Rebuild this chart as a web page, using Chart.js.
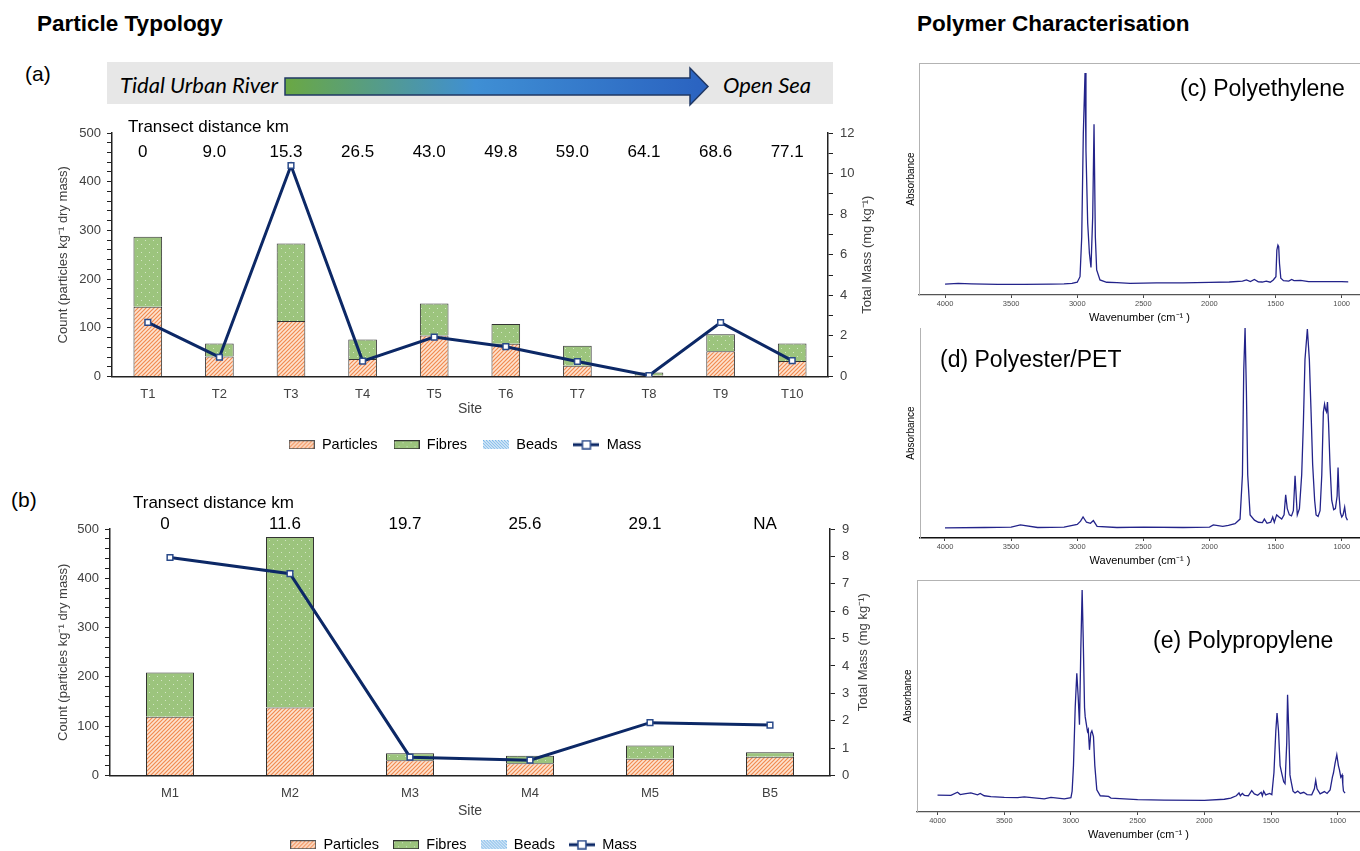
<!DOCTYPE html>
<html>
<head>
<meta charset="utf-8">
<script src="https://cdn.jsdelivr.net/npm/chart.js@4.4.0/dist/chart.umd.min.js"></script>
<style>
  body { margin: 0; width: 1360px; height: 851px; overflow: hidden; background: #fff; position: relative;
         font-family: "Liberation Sans", Arial, sans-serif; color: #000; }
  .abs { position: absolute; white-space: nowrap; }
  .head { font-weight: bold; font-size: 22.5px; }
  .panel { font-size: 21px; }
  .spec { font-size: 23px; }
  canvas { display: block; }
</style>
</head>
<body>
<div class="abs head" style="left:37px; top:11px;">Particle Typology</div>
<div class="abs head" style="left:917px; top:11px;">Polymer Characterisation</div>
<div class="abs panel" style="left:25px; top:62px;">(a)</div>
<div class="abs panel" style="left:11px; top:488px;">(b)</div>

<svg class="abs" style="left:0; top:0;" width="900" height="112">
  <defs>
    <linearGradient id="flow" x1="0" x2="1" y1="0" y2="0">
      <stop offset="0" stop-color="#6aa843"/>
      <stop offset="0.45" stop-color="#3f8fd4"/>
      <stop offset="1" stop-color="#2a62c0"/>
    </linearGradient>
  </defs>
  <rect x="107" y="62" width="726" height="42" fill="#e7e7e7"/>
  <polygon points="285,78 690,78 690,68 708,86.5 690,105 690,95 285,95" fill="url(#flow)" stroke="#203864" stroke-width="1.5"/>
  <text x="120" y="93" font-family="Lato" font-style="italic" font-size="22">Tidal Urban River</text>
  <text x="723" y="93" font-family="Lato" font-style="italic" font-size="22">Open Sea</text>
</svg>

<div class="abs" style="left:0; top:110px;"><canvas id="chartA" width="900" height="352"></canvas></div>
<div class="abs" style="left:0; top:470px;"><canvas id="chartB" width="900" height="392"></canvas></div>

<div class="abs" style="left:898px; top:55px;"><canvas id="specC" width="462" height="274"></canvas></div>
<div class="abs" style="left:898px; top:320px;"><canvas id="specD" width="462" height="252"></canvas></div>
<div class="abs" style="left:898px; top:572px;"><canvas id="specE" width="462" height="274"></canvas></div>

<div class="abs spec" style="left:1180px; top:75px;">(c) Polyethylene</div>
<div class="abs spec" style="left:940px; top:346px;">(d) Polyester/PET</div>
<div class="abs spec" style="left:1153px; top:627px;">(e) Polypropylene</div>

<script>
Chart.defaults.font.family = '"Liberation Sans", Arial, sans-serif';
Chart.defaults.animation = false;

// (a) tidal river transect
var sitesT = ["T1", "T2", "T3", "T4", "T5", "T6", "T7", "T8", "T9", "T10"];
var distT = ["0", "9.0", "15.3", "26.5", "43.0", "49.8", "59.0", "64.1", "68.6", "77.1"];
var particlesT = [143, 41, 114, 36, 84, 67, 22, 2, 52, 32];
var fibresT = [144, 27, 159, 40, 66, 41, 41, 6, 35, 36];
var beadsT = [0, 0, 0, 0, 0, 0, 0, 0, 0, 0];
var massT = [2.67, 0.95, 10.4, 0.76, 1.94, 1.47, 0.74, 0.05, 2.66, 0.78];

// (b) marine transect
var sitesM = ["M1", "M2", "M3", "M4", "M5", "B5"];
var distM = ["0", "11.6", "19.7", "25.6", "29.1", "NA"];
var particlesM = [119, 138, 31, 25, 34, 38];
var fibresM = [90, 346, 14, 15, 27, 9];
var beadsM = [0, 0, 0, 0, 0, 0];
var massM = [7.96, 7.37, 0.67, 0.56, 1.93, 1.84];

// spectra x ticks
var wavenumberTicks = [4000, 3500, 3000, 2500, 2000, 1500, 1000];

// spectra, [wavenumber cm-1, relative absorbance]
var polyethylene = [[4000,0.047],[3900,0.05],[3800,0.048],[3700,0.047],[3600,0.046],[3400,0.046],[3200,0.047],
  [3100,0.048],[3040,0.05],[3000,0.055],[2979,0.079],[2966,0.25],[2954,0.696],[2941,0.957],[2934,0.624],
  [2921,0.31],[2908,0.18],[2896,0.119],[2883,0.337],[2873,0.736],[2863,0.25],[2853,0.108],[2828,0.065],
  [2777,0.055],[2700,0.053],[2600,0.05],[2400,0.052],[2200,0.052],[2000,0.054],[1850,0.056],[1750,0.06],
  [1720,0.065],[1690,0.058],[1660,0.067],[1630,0.057],[1600,0.056],[1570,0.06],[1540,0.055],[1517,0.065],
  [1497,0.079],[1490,0.194],[1482,0.215],[1476,0.208],[1470,0.136],[1460,0.072],[1440,0.062],[1400,0.06],
  [1378,0.067],[1360,0.062],[1310,0.063],[1250,0.058],[1200,0.058],[1100,0.058],[1000,0.058],[950,0.057]];

var polyester = [[4000,0.048],[3700,0.05],[3500,0.052],[3430,0.062],[3300,0.05],[3100,0.052],[3000,0.065],
  [2975,0.08],[2956,0.1],[2930,0.075],[2900,0.07],[2878,0.083],[2850,0.055],[2700,0.05],[2500,0.052],
  [2200,0.05],[2000,0.052],[1971,0.062],[1900,0.055],[1857,0.06],[1807,0.068],[1769,0.09],[1751,0.3],
  [1741,0.8],[1731,1.0],[1721,0.7],[1711,0.3],[1693,0.11],[1660,0.085],[1630,0.075],[1600,0.073],
  [1585,0.09],[1565,0.07],[1537,0.075],[1522,0.1],[1510,0.075],[1492,0.11],[1474,0.1],[1454,0.09],
  [1436,0.11],[1424,0.206],[1412,0.14],[1396,0.11],[1380,0.105],[1366,0.13],[1353,0.296],[1340,0.15],
  [1336,0.11],[1320,0.14],[1303,0.3],[1290,0.55],[1278,0.85],[1260,0.995],[1245,0.85],[1232,0.6],
  [1220,0.35],[1205,0.18],[1194,0.11],[1179,0.103],[1164,0.13],[1151,0.3],[1139,0.6],[1130,0.637],
  [1122,0.61],[1115,0.6],[1108,0.647],[1100,0.55],[1089,0.35],[1076,0.18],[1061,0.135],[1048,0.14],
  [1035,0.2],[1028,0.336],[1020,0.2],[1010,0.12],[1000,0.1],[990,0.11],[978,0.147],[968,0.1],[957,0.085]];

var polypropylene = [[4000,0.073],[3900,0.072],[3850,0.085],[3830,0.075],[3800,0.078],[3750,0.082],
  [3700,0.074],[3680,0.08],[3650,0.07],[3600,0.066],[3500,0.063],[3400,0.062],[3350,0.065],[3200,0.057],
  [3150,0.063],[3050,0.057],[3000,0.062],[2991,0.09],[2981,0.2],[2968,0.45],[2956,0.598],[2946,0.5],
  [2936,0.376],[2926,0.7],[2916,0.957],[2908,0.75],[2898,0.45],[2893,0.41],[2876,0.347],[2870,0.355],
  [2861,0.268],[2851,0.34],[2843,0.35],[2831,0.325],[2821,0.2],[2806,0.096],[2780,0.07],[2718,0.067],
  [2700,0.06],[2600,0.057],[2500,0.053],[2300,0.051],[2000,0.05],[1850,0.055],[1802,0.06],[1760,0.07],
  [1740,0.082],[1730,0.07],[1715,0.08],[1700,0.072],[1670,0.07],[1645,0.092],[1625,0.078],[1600,0.072],
  [1574,0.085],[1565,0.07],[1555,0.09],[1540,0.074],[1510,0.08],[1494,0.075],[1478,0.17],[1464,0.35],
  [1455,0.426],[1444,0.35],[1432,0.2],[1420,0.168],[1405,0.13],[1395,0.122],[1382,0.3],[1376,0.505],
  [1367,0.35],[1358,0.16],[1352,0.139],[1335,0.09],[1320,0.082],[1300,0.09],[1280,0.08],[1255,0.085],
  [1230,0.075],[1195,0.074],[1175,0.1],[1165,0.136],[1155,0.1],[1132,0.078],[1100,0.088],[1080,0.08],
  [1057,0.095],[1040,0.15],[1032,0.168],[1020,0.21],[1007,0.247],[995,0.2],[987,0.182],[977,0.15],
  [967,0.16],[962,0.12],[957,0.09],[945,0.081]];

function tile(w, h, draw) {
  var c = document.createElement("canvas");
  c.width = w; c.height = h;
  draw(c.getContext("2d"));
  return c.getContext("2d").createPattern(c, "repeat");
}

var hatchFill = tile(4, 4, function (g) {
  g.fillStyle = "#fde3d0"; g.fillRect(0, 0, 4, 4);
  g.strokeStyle = "#f28a50"; g.lineWidth = 1.2;
  g.beginPath();
  g.moveTo(-1, 5); g.lineTo(5, -1);
  g.moveTo(-1, 1); g.lineTo(1, -1);
  g.moveTo(3, 5); g.lineTo(5, 3);
  g.stroke();
});
var fibreFill = tile(8, 8, function (g) {
  g.fillStyle = "#9cc47d"; g.fillRect(0, 0, 8, 8);
  g.fillStyle = "#d3e6c5"; g.fillRect(1, 2, 1, 1); g.fillRect(5, 6, 1, 1);
});
var beadFill = tile(3, 3, function (g) {
  g.fillStyle = "#d8eaf8"; g.fillRect(0, 0, 3, 3);
  g.fillStyle = "#6fb0e6"; g.fillRect(0, 0, 1, 1); g.fillRect(1, 1, 1, 1); g.fillRect(2, 2, 1, 1);
});

function legendBox(fill, border) {
  var c = document.createElement("canvas");
  c.width = 26; c.height = 9;
  var g = c.getContext("2d");
  g.fillStyle = fill; g.fillRect(0, 0, 26, 9);
  if (border) { g.strokeStyle = border; g.lineWidth = 1; g.strokeRect(0.5, 0.5, 25, 8); }
  return c;
}
function legendLine() {
  var c = document.createElement("canvas");
  c.width = 26; c.height = 10;
  var g = c.getContext("2d");
  g.strokeStyle = "#0c2866"; g.lineWidth = 3;
  g.beginPath(); g.moveTo(0, 5); g.lineTo(26, 5); g.stroke();
  g.fillStyle = "#fff"; g.fillRect(9, 1, 8, 8);
  g.strokeStyle = "#2a4a8a"; g.lineWidth = 1.5; g.strokeRect(9, 1, 8, 8);
  return c;
}

var axisInk = "#404040";

// distance labels above the bars, and the right axis title read bottom-to-top
var transectPlugin = {
  id: "transect",
  afterDraw: function (chart, args, opts) {
    var ctx = chart.ctx, x = chart.scales.x, a = chart.chartArea;
    ctx.save();
    ctx.fillStyle = "#000";
    ctx.font = '17px "Liberation Sans", Arial, sans-serif';
    ctx.textBaseline = "middle";
    ctx.textAlign = "left";
    ctx.fillText("Transect distance km", opts.titleX, opts.titleY);
    ctx.textAlign = "center";
    opts.labels.forEach(function (t, i) {
      ctx.fillText(t, x.getPixelForValue(i) - 5, opts.rowY);
    });
    ctx.fillStyle = axisInk;
    ctx.font = '13px "Liberation Sans", Arial, sans-serif';
    ctx.translate(opts.massTitleX, (a.top + a.bottom) / 2);
    ctx.rotate(-Math.PI / 2);
    ctx.fillText("Total Mass (mg kg\u207B\u00B9)", 0, 0);
    ctx.restore();
  }
};

function comboChart(id, o) {
  return new Chart(document.getElementById(id), {
    type: "bar",
    data: {
      labels: o.sites,
      datasets: [
        { label: "Particles", data: o.particles, backgroundColor: hatchFill, borderColor: "#333", borderWidth: 1,
          barPercentage: 0.4, categoryPercentage: 1, legendImage: legendBox(hatchFill, "#555") },
        { label: "Fibres", data: o.fibres, backgroundColor: fibreFill, borderColor: "#333", borderWidth: 1,
          barPercentage: 0.4, categoryPercentage: 1, legendImage: legendBox(fibreFill, "#333") },
        { label: "Beads", data: o.beads, backgroundColor: beadFill, borderWidth: 0,
          barPercentage: 0.4, categoryPercentage: 1, legendImage: legendBox(beadFill, null) },
        { type: "line", label: "Mass", data: o.mass, yAxisID: "y2", order: -1,
          borderColor: "#0c2866", borderWidth: 3, tension: 0,
          pointStyle: "rect", pointRadius: 4, pointBackgroundColor: "#fff",
          pointBorderColor: "#2a4a8a", pointBorderWidth: 1.5, legendImage: legendLine() }
      ]
    },
    options: {
      responsive: false,
      layout: { padding: o.padding },
      plugins: {
        tooltip: { enabled: false },
        legend: {
          position: "bottom",
          labels: {
            usePointStyle: true, pointStyleWidth: 26, padding: o.legendPad,
            color: axisInk, font: { size: 14.5 },
            generateLabels: function (chart) {
              return chart.data.datasets.map(function (ds, i) {
                return { text: ds.label, pointStyle: ds.legendImage, datasetIndex: i,
                         fillStyle: "transparent", strokeStyle: "transparent", lineWidth: 0, hidden: false };
              });
            }
          }
        },
        transect: { labels: o.dist, titleX: o.titleX, titleY: o.titleY, rowY: o.rowY, massTitleX: o.massTitleX }
      },
      scales: {
        x: {
          stacked: true,
          grid: { display: true, drawOnChartArea: false, drawTicks: false },
          border: { color: "#222", width: 1.5 },
          ticks: { color: axisInk, font: { size: 13 }, padding: 10 },
          title: { display: true, text: "Site", color: axisInk, font: { size: 14 }, padding: { top: 0, bottom: 4 } },
          afterFit: function (s) { s.height = o.xH; }
        },
        y: {
          stacked: true, min: 0, max: 500,
          ticks: { stepSize: 20, autoSkip: false, color: axisInk, font: { size: 13 }, padding: 6,
                   callback: function (v) { return v % 100 === 0 ? v : ""; } },
          grid: { drawOnChartArea: false, tickLength: 5, color: "#222" },
          border: { color: "#222", width: 1.5 },
          title: { display: true, text: "Count (particles kg\u207B\u00B9 dry mass)", color: axisInk, font: { size: 13 } },
          afterFit: function (s) { s.width = o.yW; }
        },
        y2: {
          position: "right", min: 0, max: o.massMax,
          ticks: { stepSize: 1, autoSkip: false, color: axisInk, font: { size: 13 }, padding: 7,
                   callback: function (v) { return v % o.massLabelStep === 0 ? v : ""; } },
          grid: { drawOnChartArea: false, tickLength: 5, color: "#222" },
          border: { color: "#222", width: 1.5 },
          afterFit: function (s) { s.width = o.y2W; }
        }
      }
    },
    plugins: [transectPlugin]
  });
}

comboChart("chartA", {
  sites: sitesT, dist: distT, particles: particlesT, fibres: fibresT, beads: beadsT, mass: massT,
  massMax: 12, massLabelStep: 2,
  padding: { left: 52, right: 22, top: 23, bottom: 0 },
  yW: 60, y2W: 50, xH: 45, legendPad: 16,
  titleX: 128, titleY: 17, rowY: 42, massTitleX: 867
});

comboChart("chartB", {
  sites: sitesM, dist: distM, particles: particlesM, fibres: fibresM, beads: beadsM, mass: massM,
  massMax: 9, massLabelStep: 1,
  padding: { left: 52, right: 25, top: 59, bottom: 0 },
  yW: 58, y2W: 45, xH: 48, legendPad: 14,
  titleX: 133, titleY: 33, rowY: 54, massTitleX: 863
});

var framePlugin = {
  id: "frame",
  beforeDatasetsDraw: function (chart, args, opts) {
    if (!opts.top) return;
    var a = chart.chartArea, ctx = chart.ctx;
    ctx.save();
    ctx.strokeStyle = "#b3b3b3"; ctx.lineWidth = 1;
    ctx.beginPath(); ctx.moveTo(a.left, a.top + 0.5); ctx.lineTo(a.right, a.top + 0.5); ctx.stroke();
    ctx.restore();
  }
};

function spectrumChart(id, points, o) {
  return new Chart(document.getElementById(id), {
    type: "line",
    data: {
      datasets: [{
        data: points.map(function (p) { return { x: p[0], y: p[1] }; }),
        borderColor: "#23238a", borderWidth: 1.3, pointRadius: 0, tension: 0
      }]
    },
    options: {
      responsive: false,
      layout: { padding: { top: o.padTop, left: 0, right: 0, bottom: 0 } },
      plugins: { legend: { display: false }, tooltip: { enabled: false }, frame: { top: o.topLine } },
      scales: {
        x: {
          type: "linear", reverse: true, min: o.min, max: o.max,
          afterBuildTicks: function (s) { s.ticks = wavenumberTicks.map(function (v) { return { value: v }; }); },
          ticks: { autoSkip: false, maxRotation: 0, color: "#4d4d4d", font: { size: 7.5 }, padding: 1,
                   callback: function (v) { return String(v); } },
          grid: { drawOnChartArea: false, tickLength: 3, color: "#444" },
          border: { color: o.axisColor, width: o.axisWidth },
          title: { display: true, text: "Wavenumber (cm\u207B\u00B9 )", color: "#000", font: { size: 11 }, padding: { top: 0, bottom: 4 } },
          afterFit: function (s) { s.height = o.xH; }
        },
        y: {
          min: 0, max: 1,
          ticks: { display: false },
          grid: { display: true, drawOnChartArea: false, drawTicks: false },
          border: { color: "#b3b3b3", width: 1 },
          title: { display: true, text: "Absorbance", color: "#000", font: { size: 10 }, padding: { top: o.titlePad, bottom: 0 } },
          afterFit: function (s) { s.width = o.yW; }
        }
      }
    },
    plugins: [framePlugin]
  });
}

spectrumChart("specC", polyethylene, { min: 861, max: 4197, padTop: 8, xH: 34, yW: 21, titlePad: 7, topLine: true, axisColor: "#555", axisWidth: 1.2 });
spectrumChart("specD", polyester, { min: 862, max: 4189, padTop: 8, xH: 34, yW: 22, titlePad: 7, topLine: false, axisColor: "#111", axisWidth: 1.5 });
spectrumChart("specE", polypropylene, { min: 833, max: 4154, padTop: 8, xH: 34, yW: 19, titlePad: 4, topLine: true, axisColor: "#555", axisWidth: 1.2 });
</script>
</body>
</html>
